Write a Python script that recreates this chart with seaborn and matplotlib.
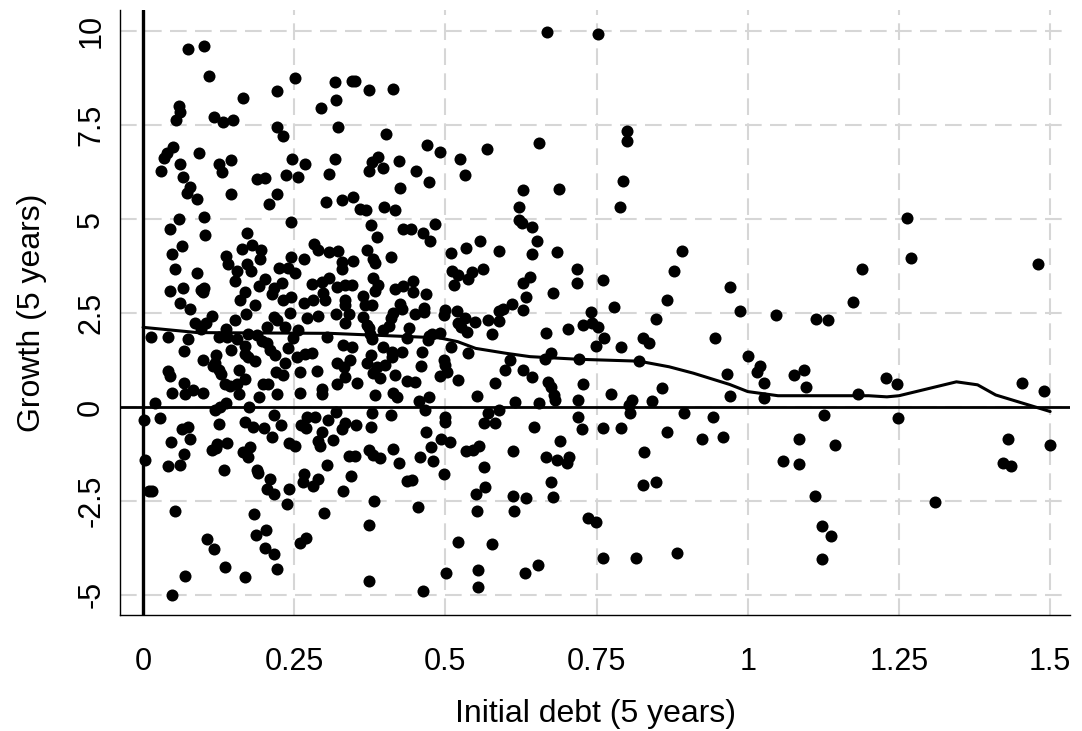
""" Диаграмма рассеяния: рост за 5 лет против начального долга, со сглаживающей линией """

from matplotlib import pyplot as plt
import seaborn as sb
import pandas as pd


# начальный долг (ось x)
debt = [
	0.074, 0.101, 0.109, 0.251, 0.222, 0.165, 0.294, 0.060, 0.061, 0.054,
	0.117, 0.132, 0.149, 0.222, 0.232, 0.049, 0.040, 0.034, 0.092, 0.061,
	0.029, 0.125, 0.130, 0.146, 0.246, 0.268, 0.237, 0.256, 0.066, 0.078,
	0.073, 0.089, 0.146, 0.189, 0.202, 0.221, 0.209, 0.308, 0.303, 0.060,
	0.101,
	0.318, 0.345, 0.350, 0.373, 0.413, 0.319, 0.323, 0.402, 0.470, 0.491,
	0.568, 0.318, 0.389, 0.378, 0.396, 0.374, 0.423, 0.452, 0.472, 0.425,
	0.524, 0.532, 0.329, 0.347, 0.358, 0.368, 0.399, 0.416, 0.629, 0.621,
	0.668, 0.752, 0.655, 0.800, 0.800, 0.687, 0.794, 0.788, 1.263,
	0.044, 0.102, 0.244, 0.172, 0.064, 0.047, 0.164, 0.180, 0.195, 0.194,
	0.137, 0.141, 0.245, 0.266, 0.283, 0.290, 0.307, 0.053, 0.089, 0.172,
	0.156, 0.178, 0.225, 0.240, 0.251, 0.152, 0.202, 0.191, 0.229, 0.216,
	0.213, 0.045, 0.066, 0.095, 0.101, 0.099, 0.169, 0.160, 0.232, 0.245,
	0.279, 0.296, 0.307, 0.297, 0.301, 0.266, 0.281, 0.061, 0.078, 0.185,
	0.114, 0.170, 0.152, 0.216, 0.221, 0.243, 0.271, 0.290, 0.086, 0.104,
	0.096, 0.137, 0.205, 0.235, 0.257, 0.013, 0.041, 0.075, 0.125, 0.138,
	0.155, 0.174, 0.188, 0.196, 0.205, 0.248, 0.304, 0.169, 0.146, 0.067,
	0.169, 0.210, 0.218, 0.240, 0.254, 0.268, 0.279, 0.099, 0.121, 0.119,
	0.174, 0.185, 0.115, 0.126, 0.158, 0.041, 0.044, 0.129, 0.220, 0.235,
	0.231, 0.260, 0.288, 0.068, 0.082, 0.048, 0.099, 0.070, 0.135, 0.144,
	0.156, 0.169, 0.159, 0.198, 0.207, 0.191, 0.221, 0.260, 0.296, 0.296,
	0.019, 0.119, 0.127, 0.137, 0.175,
	0.001, 0.028, 0.217, 0.271, 0.284, 0.306, 0.064, 0.075, 0.126, 0.169,
	0.181, 0.200, 0.228, 0.261, 0.270, 0.296, 0.046, 0.077, 0.123, 0.138,
	0.213, 0.242, 0.251, 0.290, 0.292, 0.114, 0.121, 0.166, 0.177, 0.173,
	0.067, 0.003, 0.042, 0.061, 0.133, 0.304, 0.188, 0.190, 0.266, 0.210,
	0.264, 0.290, 0.281, 0.009, 0.014, 0.205, 0.217, 0.241, 0.238, 0.053,
	0.184, 0.300, 0.105, 0.117, 0.186, 0.203, 0.202, 0.217, 0.260, 0.270,
	0.135, 0.222, 0.069, 0.168, 0.047,
	0.377, 0.430, 0.443, 0.483, 0.387, 0.463, 0.475, 0.621, 0.626, 0.323,
	0.370, 0.380, 0.383, 0.410, 0.329, 0.347, 0.329, 0.509, 0.534, 0.557,
	0.589, 0.511, 0.521, 0.514, 0.538, 0.544, 0.562, 0.380, 0.389, 0.320,
	0.334, 0.345, 0.384, 0.417, 0.430, 0.446, 0.447, 0.468, 0.628, 0.634,
	0.364, 0.334, 0.334, 0.367, 0.378, 0.425, 0.428, 0.465, 0.465, 0.499,
	0.497, 0.519, 0.610, 0.596, 0.588, 0.628, 0.319, 0.340, 0.364, 0.414,
	0.410, 0.450, 0.571, 0.588, 0.533, 0.549, 0.521, 0.525, 0.536, 0.577,
	0.334, 0.370, 0.373, 0.407, 0.397, 0.439, 0.375, 0.378, 0.436, 0.472,
	0.477, 0.491, 0.471, 0.331, 0.345, 0.397, 0.411, 0.428, 0.461, 0.509,
	0.538, 0.377, 0.411, 0.320, 0.342, 0.370, 0.332, 0.387, 0.400, 0.459,
	0.497, 0.499, 0.607, 0.380, 0.392, 0.417, 0.491, 0.502, 0.599, 0.629,
	0.334, 0.320, 0.353, 0.436, 0.450, 0.521, 0.582, 0.384, 0.414, 0.420,
	0.457, 0.472, 0.552, 0.615,
	0.319, 0.334, 0.329, 0.352, 0.378, 0.377, 0.410, 0.466, 0.499, 0.499,
	0.570, 0.588, 0.564, 0.582, 0.468, 0.314, 0.492, 0.508, 0.476, 0.413,
	0.373, 0.381, 0.391, 0.340, 0.351, 0.458, 0.479, 0.534, 0.546, 0.556,
	0.612, 0.424, 0.563, 0.344, 0.498, 0.437, 0.444, 0.331, 0.566, 0.551,
	0.382, 0.455, 0.611, 0.633, 0.552, 0.614, 0.374, 0.520, 0.577, 0.501,
	0.554, 0.632, 0.374, 0.554, 0.463,
	0.643, 0.652, 0.643, 0.684, 0.640, 0.718, 0.717, 0.760, 0.678, 0.891,
	0.878, 0.867, 0.970, 0.778, 0.740, 0.848, 0.742, 0.753, 0.727, 0.703,
	0.666, 0.763, 0.749, 0.790, 0.827, 0.837, 0.946, 0.674, 0.665, 0.721,
	0.820, 0.643, 0.669, 0.674, 0.728, 0.680, 0.681, 0.654, 0.720, 0.774,
	0.858, 0.808, 0.804, 0.842, 0.965, 0.970,
	0.720, 0.805, 0.894, 0.942, 0.647, 0.726, 0.760, 0.790, 0.867, 0.924,
	0.959, 0.689, 0.829, 0.666, 0.684, 0.705, 0.701, 0.675, 0.678, 0.826,
	0.848, 0.735, 0.749, 0.760, 0.815, 0.883, 0.653,
	1.270, 1.480, 1.189, 0.987, 1.047, 1.174, 1.113, 1.132, 1.001, 1.020,
	1.016, 1.027, 1.026, 1.076, 1.093, 1.097, 1.182, 1.228, 1.246, 1.454,
	1.490, 1.126, 1.248, 1.084, 1.144, 1.059, 1.084, 1.431, 1.499, 1.422,
	1.436, 1.111, 1.310, 1.122, 1.138, 1.123,
]

# рост (ось y), в том же порядке
growth = [
	9.52, 9.61, 8.81, 8.76, 8.40, 8.22, 7.96, 8.00, 7.85, 7.65,
	7.71, 7.59, 7.63, 7.45, 7.21, 6.92, 6.76, 6.63, 6.75, 6.46,
	6.27, 6.46, 6.26, 6.58, 6.60, 6.46, 6.18, 6.11, 6.13, 5.86,
	5.70, 5.53, 5.66, 6.06, 6.10, 5.67, 5.39, 6.21, 5.46, 5.00,
	5.06,
	8.64, 8.67, 8.67, 8.45, 8.46, 8.16, 7.45, 7.26, 6.96, 6.78,
	6.87, 6.61, 6.65, 6.51, 6.37, 6.27, 6.54, 6.29, 5.99, 5.84,
	6.60, 6.18, 5.52, 5.59, 5.27, 5.24, 5.31, 5.24, 5.77, 5.31,
	9.98, 9.93, 7.02, 7.34, 7.08, 5.79, 6.01, 5.33, 5.03,
	4.73, 4.59, 4.93, 4.64, 4.28, 4.08, 4.21, 4.31, 4.19, 3.94,
	4.03, 3.80, 4.00, 3.94, 4.34, 4.18, 4.13, 3.66, 3.56, 3.80,
	3.63, 3.62, 3.71, 3.69, 3.57, 3.35, 3.40, 3.22, 3.31, 3.16,
	3.00, 3.10, 3.16, 3.11, 3.18, 3.07, 3.05, 2.86, 2.86, 2.92,
	3.27, 3.33, 3.44, 3.04, 2.85, 2.77, 2.86, 2.77, 2.61, 2.71,
	2.42, 2.47, 2.32, 2.40, 2.31, 2.49, 2.37, 2.42, 2.24, 2.23,
	2.07, 2.07, 2.12, 2.12, 2.05, 1.87, 1.85, 1.80, 1.85, 1.87,
	1.82, 1.94, 1.91, 1.75, 1.69, 1.83, 1.87, 1.62, 1.53, 1.49,
	1.40, 1.52, 1.38, 1.56, 1.34, 1.40, 1.44, 1.25, 1.38, 1.16,
	1.34, 1.22, 1.09, 0.98, 0.98, 0.97, 0.83, 0.88, 0.94, 1.16,
	0.85, 0.94, 0.97, 0.63, 0.45, 0.36, 0.38, 0.34, 0.61, 0.56,
	0.61, 0.74, 0.34, 0.61, 0.61, 0.26, 0.35, 0.38, 0.47, 0.34,
	0.10, -0.08, 0.01, 0.10, 0.01,
	-0.35, -0.28, -0.21, -0.27, -0.27, -0.35, -0.59, -0.54, -0.45, -0.39,
	-0.54, -0.57, -0.48, -0.48, -0.57, -0.66, -0.92, -0.86, -0.98, -0.95,
	-0.81, -0.95, -1.04, -0.90, -1.04, -1.14, -1.10, -1.19, -1.06, -1.32,
	-1.26, -1.41, -1.56, -1.54, -1.69, -1.54, -1.68, -1.76, -1.78, -1.92,
	-1.99, -1.92, -2.10, -2.23, -2.23, -2.19, -2.32, -2.19, -2.59, -2.76,
	-2.85, -2.81, -3.52, -3.78, -3.42, -3.27, -3.76, -3.91, -3.61, -3.50,
	-4.26, -4.32, -4.49, -4.53, -5.01,
	4.84, 4.75, 4.73, 4.87, 4.53, 4.64, 4.42, 4.97, 4.89, 4.15,
	4.19, 3.95, 3.84, 3.98, 3.87, 3.89, 3.66, 4.09, 4.24, 4.41,
	4.16, 3.62, 3.51, 3.24, 3.40, 3.60, 3.66, 3.42, 3.24, 3.20,
	3.24, 3.24, 3.09, 3.13, 3.22, 3.36, 3.07, 3.00, 3.31, 2.92,
	2.95, 2.86, 2.71, 2.71, 2.71, 2.73, 2.60, 2.64, 2.53, 2.58,
	2.45, 2.56, 2.73, 2.62, 2.56, 2.58, 2.47, 2.47, 2.40, 2.49,
	2.36, 2.47, 2.31, 2.30, 2.36, 2.27, 2.23, 2.12, 2.00, 1.94,
	2.23, 2.18, 2.09, 2.15, 2.05, 2.09, 1.94, 1.80, 1.84, 1.89,
	1.94, 1.96, 1.78, 1.65, 1.60, 1.59, 1.47, 1.47, 1.47, 1.60,
	1.43, 1.38, 1.34, 1.16, 1.25, 1.16, 1.06, 1.07, 1.12, 1.09,
	1.25, 1.12, 1.25, 0.90, 0.76, 0.85, 0.83, 0.94, 0.98, 0.98,
	0.81, 0.60, 0.63, 0.70, 0.67, 0.72, 0.63, 0.32, 0.38, 0.26,
	0.17, 0.26, 0.29, 0.14,
	-0.12, -0.42, -0.59, -0.48, -0.15, -0.52, -0.21, -0.08, -0.26, -0.39,
	-0.15, -0.08, -0.42, -0.42, -0.66, -0.88, -0.86, -0.92, -1.06, -1.13,
	-1.14, -1.28, -1.37, -1.30, -1.30, -1.32, -1.44, -1.16, -1.14, -1.04,
	-1.17, -1.50, -1.60, -1.84, -1.78, -1.96, -1.94, -2.23, -2.14, -2.32,
	-2.49, -2.65, -2.36, -2.43, -2.78, -2.76, -3.14, -3.58, -3.65, -4.42,
	-4.34, -4.42, -4.62, -4.80, -4.91,
	4.80, 4.41, 4.06, 4.13, 3.47, 3.66, 3.31, 3.38, 3.04, 4.16,
	3.63, 2.85, 3.20, 2.65, 2.53, 2.35, 2.24, 2.14, 2.18, 2.07,
	1.96, 1.83, 1.62, 1.60, 1.83, 1.71, 1.84, 1.43, 1.29, 1.29,
	1.22, 0.81, 0.67, 0.54, 0.60, 0.32, 0.19, 0.10, 0.19, 0.35,
	0.50, 0.19, 0.05, 0.17, 0.87, 0.29,
	-0.27, -0.15, -0.15, -0.26, -0.54, -0.59, -0.57, -0.57, -0.67, -0.85,
	-0.79, -0.90, -1.19, -1.34, -1.41, -1.32, -1.50, -2.00, -2.40, -2.07,
	-2.00, -2.96, -3.05, -4.02, -4.02, -3.89, -4.20,
	3.97, 3.80, 3.66, 2.56, 2.45, 2.80, 2.33, 2.31, 1.36, 1.10,
	0.94, 0.63, 0.23, 0.85, 0.98, 0.54, 0.35, 0.76, 0.61, 0.63,
	0.43, -0.21, -0.28, -0.86, -1.01, -1.45, -1.52, -0.85, -1.01, -1.50,
	-1.56, -2.38, -2.54, -3.16, -3.43, -4.05,
]

# сглаживающая линия (lowess)
smooth_debt = [0, 0.09, 0.31, 0.49, 0.52, 0.55, 0.60, 0.64, 0.72, 0.82, 0.87, 0.91,
	0.97, 1.0, 1.05, 1.20, 1.23, 1.25, 1.345, 1.38, 1.41, 1.455, 1.50]
smooth_growth = [2.12, 1.98, 1.96, 1.84, 1.74, 1.56, 1.43, 1.34, 1.27, 1.22, 1.07, 0.90,
	0.60, 0.41, 0.30, 0.30, 0.27, 0.30, 0.67, 0.59, 0.32, 0.10, -0.12]

x_ticks = [0, 0.25, 0.5, 0.75, 1, 1.25, 1.5]
x_labels = ["0", "0.25", "0.5", "0.75", "1", "1.25", "1.5"]
y_ticks = [-5, -2.5, 0, 2.5, 5, 7.5, 10]
y_labels = ["-5", "-2.5", "0", "2.5", "5", "7.5", "10"]


def draw():
	""" Построение графика и сохранение в out.png """

	sb.set_style("white")
	plt.rcParams["font.family"] = ["Liberation Sans", "DejaVu Sans"]

	data = pd.DataFrame({"debt": debt, "growth": growth})
	smooth = pd.DataFrame({"debt": smooth_debt, "growth": smooth_growth})

	fig = plt.figure(figsize=(10.82, 7.31), dpi=100)
	ax = fig.add_axes([0.111, 0.159, 0.878, 0.827])

	ax.grid(True, color="#d6d6d6", linewidth=1.5, linestyle=(0, (8, 4)))
	ax.set_axisbelow(True)
	ax.axhline(0, color="black", linewidth=2.0, zorder=2)
	ax.axvline(0, color="black", linewidth=2.4, zorder=2)

	sb.scatterplot(data=data, x="debt", y="growth", color="black", s=75,
		linewidth=0, ax=ax, zorder=3)
	sb.lineplot(data=smooth, x="debt", y="growth", color="black", linewidth=2.2,
		sort=False, ax=ax, zorder=4)

	ax.set_xlim(-0.038, 1.533)
	ax.set_ylim(-5.53, 10.56)
	ax.set_xticks(x_ticks, x_labels)
	ax.set_yticks(y_ticks, y_labels)
	ax.tick_params(axis="both", direction="out", length=7, width=1, color="black",
		labelcolor="black", labelsize=22)
	ax.tick_params(axis="x", pad=16)
	ax.tick_params(axis="y", pad=3)
	for lab in ax.get_yticklabels():
		lab.set_rotation(90)
		lab.set_va("center")

	for side in ["top", "right"]:
		ax.spines[side].set_visible(False)
	for side in ["left", "bottom"]:
		ax.spines[side].set_color("black")
		ax.spines[side].set_linewidth(1)

	ax.set_xlabel("Initial debt (5 years)", fontsize=23, color="black", labelpad=16)
	ax.set_ylabel("Growth (5 years)", fontsize=23, color="black", labelpad=21)

	fig.savefig("out.png", dpi=100)


if __name__ == "__main__":
	draw()
